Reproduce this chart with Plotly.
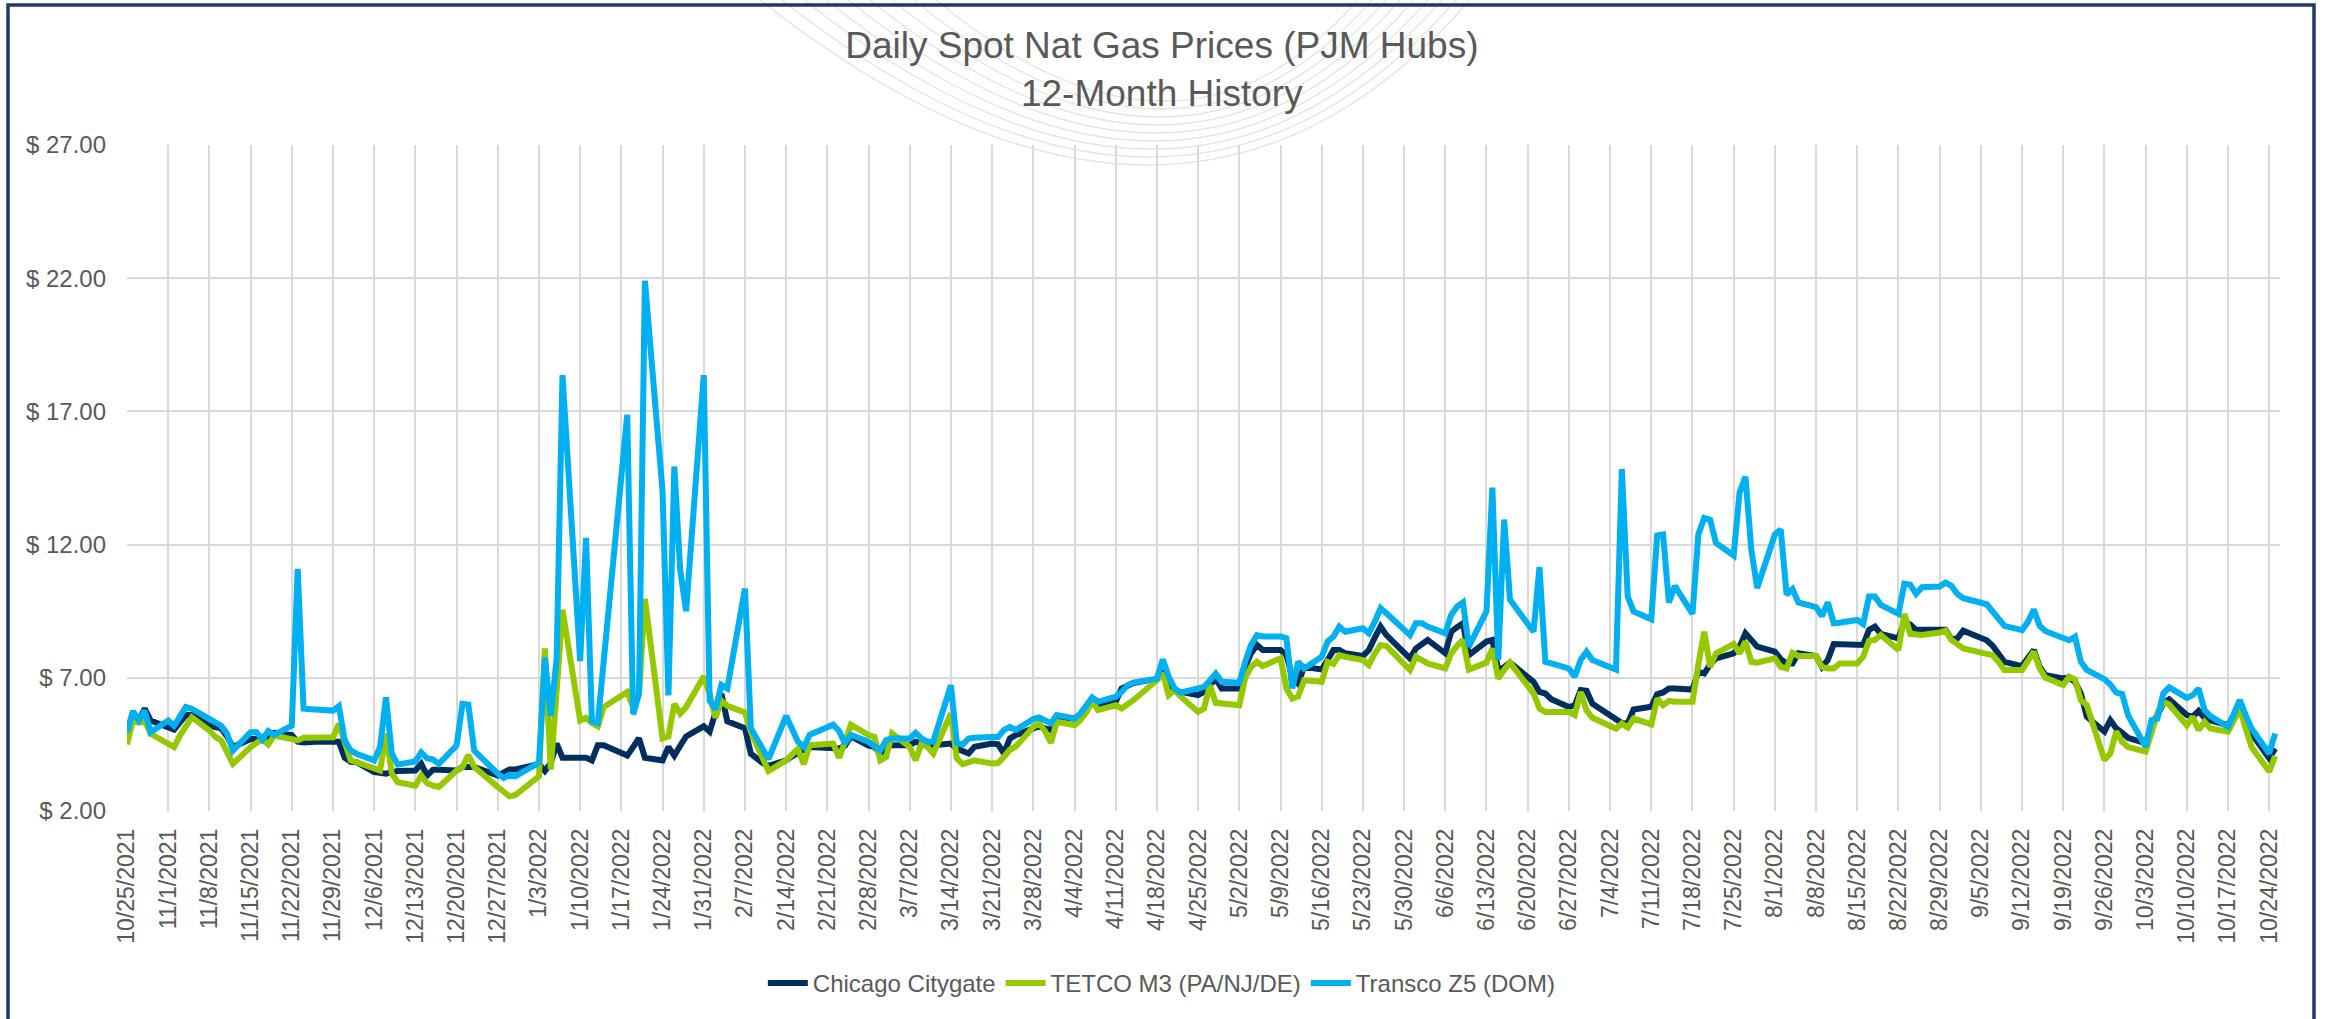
import pandas as pd
import plotly.graph_objects as go

# ---------------- data (weekday calendar, None = no quote) ----------------
start_date = "2021-10-25"
end_date = "2022-10-25"
dates = pd.bdate_range(start_date, end_date)

N = None
chicago = [
    4.96, 5.5, 5.4, 5.84, 5.4,
    5.15, 5.05, 5.33, 5.6, 5.6,
    5.2, 5.15, 5.1, 4.8, 4.4,
    4.7, 4.7, 4.78, 4.75, 4.93,
    4.85, 4.6, 4.57, N, 4.6,
    4.6, 4.6, 4.0, 3.85, 3.83,
    3.46, 3.43, 3.4, 3.46, 3.5,
    3.52, 3.77, 3.33, 3.55, 3.55,
    3.52, 3.65, 3.67, 3.65, N,
    3.33, 3.45, 3.56, 3.56, N,
    3.76, 3.5, 3.8, 4.53, 4.0,
    4.0, 4.0, 3.9, 4.47, 4.47,
    N, 4.08, 4.4, 4.73, 4.0,
    3.9, 4.4, 4.08, 4.45, 4.8,
    5.18, 4.98, 5.7, 6.4, 5.37,
    5.11, 4.15, 3.95, 3.8, 3.69,
    3.9, 4.05, 4.2, 4.3, 4.4,
    N, 4.33, 4.35, 4.45, 4.8,
    4.45, 4.41, 4.16, 4.41, 4.47,
    4.47, 4.6, 4.53, 4.53, 4.47,
    4.53, 4.35, 4.25, 4.16, 4.41,
    4.53, 4.5, 4.16, 4.72, 4.85,
    5.1, 5.19, 5.1, 5.04, 5.54,
    5.47, 5.6, 5.85, 6.1, 5.97,
    6.1, 6.6, 6.72, 6.8, N,
    6.97, 7.54, 6.66, 6.5, 6.47,
    6.35, 6.47, 6.7, 6.97, 6.6,
    6.6, 7.41, 7.92, 8.23, 8.04,
    8.04, 7.85, 7.04, 6.79, 7.41,
    7.31, 7.67, 8.04, 8.04, 7.92,
    7.82, 8.04, 8.5, 8.92, 8.6,
    N, 7.73, 8.1, 8.25, 8.42,
    7.92, 8.73, 8.9, 9.05, 7.85,
    8.36, 8.42, 7.29, 7.4, 7.57,
    N, 6.85, 6.47, 6.41, 6.2,
    5.9, 5.97, 6.54, 6.51, 6.03,
    N, 5.4, 5.3, 5.28, 5.81,
    5.91, 6.38, 6.45, 6.6, 6.6,
    6.56, 7.23, 7.16, 7.5, 7.73,
    7.92, 8.17, 8.67, 8.42, 8.17,
    7.98, 7.7, 7.54, 7.54, 7.92,
    7.82, 7.41, 7.67, 8.27, 8.27,
    8.27, 8.23, 8.8, 8.92, 8.65,
    8.48, 9.11, 9.0, 8.8, 8.8,
    8.8, 8.8, 8.45, 8.48, 8.77,
    N, 8.41, 8.2, 7.91, 7.6,
    7.44, 7.73, 8.04, 7.41, 7.1,
    6.98, 7.01, 6.85, 6.41, 5.54,
    4.98, 5.41, 5.1, 4.94, 4.75,
    4.54, 5.22, 5.6, 6.04, 6.19,
    5.6, 5.54, 5.76, 5.5, 5.4,
    5.22, 5.6, 6.1, 5.5, 4.91,
    3.98, 4.35,
]
tetco = [
    4.5, 5.4, 5.33, 5.4, 4.9,
    4.52, 4.4, 4.83, 5.15, 5.52,
    5.02, 4.78, 4.65, 4.15, 3.77,
    4.4, 4.52, 4.7, 4.5, 4.83,
    4.7, 4.65, 4.75, N, 4.77,
    4.77, 5.27, 4.5, 3.9, 3.83,
    3.58, 3.52, 4.9, 3.4, 3.08,
    2.95, 3.33, 3.04, 2.95, 2.9,
    3.52, 3.65, 4.1, 3.65, N,
    2.9, 2.72, 2.55, 2.6, N,
    3.3, 8.1, 3.56, 6.5, 9.56,
    5.4, 5.5, 5.3, 5.18, 5.9,
    N, 6.47, 5.9, 6.4, 9.96,
    4.73, 4.8, 6.02, 5.66, 5.9,
    7.05, 6.4, 5.5, 6.14, 5.95,
    5.7, 4.98, 4.5, 4.0, 3.5,
    3.9, 4.1, 4.33, 3.76, 4.47,
    N, 4.53, 4.0, 4.6, 5.24,
    4.85, 4.78, 3.9, 4.03, 4.91,
    4.41, 3.9, 4.53, 4.41, 4.16,
    5.66, 3.97, 3.76, 3.85, 3.9,
    3.78, 3.8, 4.03, 4.3, 4.41,
    5.16, 5.29, 5.0, 4.56, 5.35,
    5.22, 5.41, 5.7, 6.1, 5.79,
    5.97, 5.85, 6.0, 6.16, N,
    6.91, 7.16, 6.35, 6.54, 6.3,
    5.72, 5.85, 6.72, 6.06, 6.03,
    5.97, 7.0, 7.41, 7.6, 7.44,
    7.73, 6.6, 6.22, 6.3, 6.91,
    6.85, 7.6, 7.52, 7.85, 7.79,
    7.67, 7.48, 7.9, 8.23, 8.19,
    N, 7.29, 7.79, 7.65, 7.54,
    7.35, 7.92, 8.2, 8.42, 7.31,
    7.57, 8.1, 6.97, 7.3, 7.57,
    N, 6.41, 5.85, 5.72, 5.72,
    5.72, 5.6, 6.47, 5.78, 5.5,
    N, 5.09, 5.28, 5.13, 5.47,
    5.25, 6.22, 5.97, 6.13, 6.1,
    6.1, 7.5, 8.73, 7.41, 7.92,
    8.27, 7.92, 8.36, 7.6, 7.57,
    7.73, 7.41, 7.35, 7.94, 7.82,
    7.82, 7.41, 7.35, 7.35, 7.54,
    7.54, 7.79, 8.39, 8.42, 8.61,
    8.04, 9.4, 8.65, 8.65, 8.61,
    8.7, 8.77, 8.42, 8.29, 8.1,
    N, 7.9, 7.85, 7.6, 7.29,
    7.29, 7.66, 7.98, 7.35, 7.0,
    6.73, 7.04, 6.94, 6.16, 5.98,
    3.91, 4.16, 4.98, 4.6, 4.4,
    4.23, 5.04, 5.66, 6.1, 6.0,
    5.22, 5.54, 5.04, 5.35, 5.1,
    4.98, 5.4, 5.85, 5.1, 4.41,
    3.48, 4.06,
]
transco = [
    4.96, 5.75, 5.4, 5.77, 4.96,
    5.4, 5.2, 5.52, 5.9, 5.84,
    5.46, 5.35, 5.2, 4.9, 4.27,
    4.96, 4.96, 4.68, 5.0, 4.86,
    5.2, 11.09, 5.84, N, 5.81,
    5.77, 5.94, 4.65, 4.27, 4.15,
    3.9, 4.4, 6.27, 4.15, 3.75,
    3.86, 4.2, 3.98, 3.93, 3.77,
    4.46, 6.02, 5.99, 4.27, N,
    3.4, 3.24, 3.36, 3.3, N,
    3.82, 7.76, 5.57, 7.7, 18.36,
    7.63, 12.25, 5.37, 5.31, N,
    N, 16.87, 5.63, 6.4, 21.9,
    14.0, 6.34, 14.93, 11.05, 9.5,
    18.36, 6.14, 5.82, 6.73, 6.6,
    10.35, 5.11, 4.7, 4.3, 3.95,
    5.57, 5.1, 4.6, 4.4, 4.86,
    N, 5.24, 5.0, 4.53, 4.86,
    4.6, 4.47, 4.28, 4.66, 4.72,
    4.72, 4.93, 4.72, 4.6, 4.6,
    6.72, 4.56, 4.5, 4.72, 4.75,
    4.78, 4.78, 5.04, 5.16, 5.04,
    5.45, 5.51, 5.4, 5.29, 5.6,
    5.47, 5.66, 6.0, 6.26, 6.1,
    6.29, 6.47, 6.72, 6.82, N,
    6.97, 7.69, 7.04, 6.6, 6.44,
    6.6, 6.66, 6.9, 7.16, 6.85,
    6.81, 7.6, 8.23, 8.6, 8.55,
    8.55, 8.48, 6.6, 7.6, 7.35,
    7.79, 8.36, 8.55, 8.92, 8.73,
    8.86, 8.67, 9.1, 9.61, 9.42,
    N, 8.6, 9.05, 9.05, 8.92,
    8.67, 9.36, 9.67, 9.83, 8.17,
    9.49, 14.14, 7.67, 12.94, 9.93,
    N, 8.73, 11.16, 7.6, 7.54,
    7.35, 7.04, 7.67, 7.98, 7.67,
    N, 7.31, 14.83, 10.05, 9.49,
    9.2, 12.34, 12.38, 9.83, 10.45,
    9.4, 12.38, 13.0, 12.94, 12.06,
    11.59, 13.95, 14.55, 11.81, 10.37,
    12.38, 12.57, 10.12, 10.33, 9.83,
    9.65, 9.32, 9.83, 9.05, 9.07,
    9.17, 9.02, 10.05, 10.05, 9.74,
    9.4, 10.53, 10.49, 10.15, 10.4,
    10.43, 10.58, 10.45, 10.15, 9.99,
    N, 9.76, 9.5, 9.25, 8.95,
    8.79, 9.1, 9.56, 8.95, 8.75,
    8.5, 8.41, 8.54, 7.6, 7.3,
    6.95, 6.75, 6.45, 6.39, 5.6,
    4.41, 5.41, 5.47, 6.41, 6.64,
    6.25, 6.35, 6.6, 5.79, 5.56,
    5.16, 5.6, 6.16, 5.6, 5.1,
    4.16, 4.91,
]

series_names = ["Chicago Citygate", "TETCO M3 (PA/NJ/DE)", "Transco Z5 (DOM)"]
series_colors = ["#002F5F", "#96C800", "#00B0F0"]

tick_dates = pd.date_range("2021-10-25", "2022-10-24", freq="7D")
tick_labels = [f"{d.month}/{d.day}/{d.year}" for d in tick_dates]

# ---------------- figure ----------------
W, H = 2326, 1019
ML, MR, MT, MB = 127, 46, 145, 208
FONT = "Liberation Sans, Arial, Helvetica, sans-serif"
GREY = "#595959"

fig = go.Figure()
for name, vals, col in zip(series_names, [chicago, tetco, transco], series_colors):
    fig.add_trace(go.Scatter(
        x=dates, y=vals, name=name, mode="lines", connectgaps=True,
        line=dict(color=col, width=6, shape="linear"),
    ))

pw = W - ML - MR
ph = H - MT - MB
def px_x(x):
    return (x - ML) / pw
def px_y(y):
    return (H - MB - y) / ph

# faint background watermark arcs (decorative, behind the chart)
for k in range(9):
    xl = 760 + k * 22
    xr = 1470 - k * 14
    cy = 330 - k * 16
    path = (f"M {px_x(xl)},{px_y(0)} Q {px_x(1180)},{px_y(cy)} {px_x(xr)},{px_y(0)}")
    fig.add_shape(type="path", xref="paper", yref="paper", path=path,
                  line=dict(color="#E4E4E4", width=1.3), layer="below")

fig.add_shape(type="rect", xref="paper", yref="paper",
              x0=px_x(8), x1=px_x(2314), y0=px_y(1040), y1=px_y(5),
              line=dict(color="#1F3864", width=3.5), fillcolor="rgba(0,0,0,0)", layer="above")

fig.update_layout(
    width=W, height=H,
    margin=dict(l=ML, r=MR, t=MT, b=MB),
    paper_bgcolor="white", plot_bgcolor="rgba(0,0,0,0)",
    font=dict(family=FONT, color=GREY),
    title=dict(text="Daily Spot Nat Gas Prices (PJM Hubs)<br>12-Month History",
               x=0.4995, xref="container", xanchor="center",
               y=0.943, yref="container", yanchor="top",
               font=dict(size=37, color=GREY, family=FONT)),
    legend=dict(orientation="h", x=0.4995, xref="container", xanchor="center",
                y=0.035, yref="container", yanchor="middle",
                font=dict(size=24, color=GREY, family=FONT),
                itemwidth=40, bgcolor="rgba(0,0,0,0)"),
    showlegend=True,
)
fig.update_xaxes(
    type="date", range=["2021-10-25", "2022-10-25 20:00"],
    tickmode="array", tickvals=tick_dates, ticktext=tick_labels,
    tickangle=-90, tickfont=dict(size=23, color=GREY, family=FONT),
    showgrid=True, gridcolor="#D9D9D9", gridwidth=2,
    zeroline=False, showline=False, ticks="", ticklabelstandoff=12,
)
fig.update_yaxes(
    range=[2, 27], tick0=2, dtick=5, tickprefix="$ ", tickformat=".2f",
    tickfont=dict(size=24, color=GREY, family=FONT),
    showgrid=True, gridcolor="#D9D9D9", gridwidth=2,
    zeroline=False, showline=False, ticks="", ticklabelstandoff=20,
)

fig.write_html("out.html", config={"displayModeBar": False},
               post_script="document.body.style.margin='0';document.body.style.overflow='hidden';")
